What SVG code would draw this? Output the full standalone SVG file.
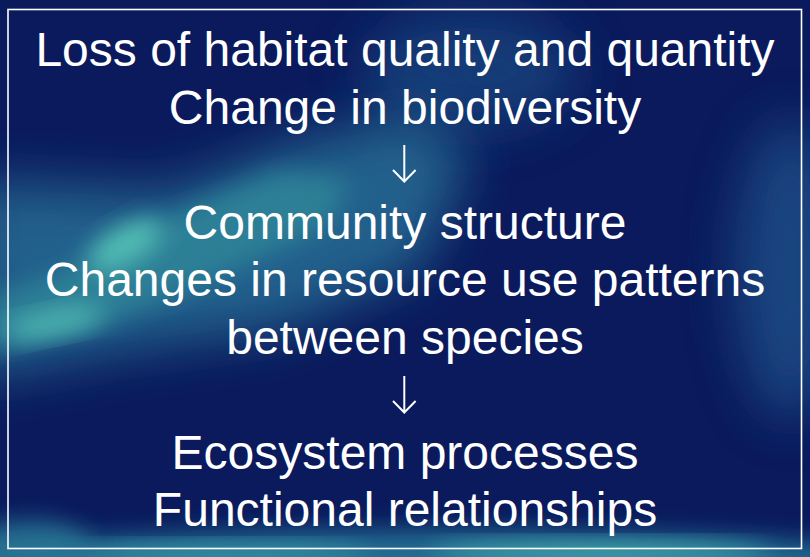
<svg xmlns="http://www.w3.org/2000/svg" width="810" height="557" viewBox="0 0 810 557">
  <defs>
    <filter id="soft" x="-50%" y="-50%" width="200%" height="200%">
      <feGaussianBlur stdDeviation="26"/>
    </filter>
    <filter id="softer" x="-50%" y="-50%" width="200%" height="200%">
      <feGaussianBlur stdDeviation="12"/>
    </filter>
    <style>
      .t { font-family: "Liberation Sans", Arial, sans-serif; font-size: 48px; fill: #ffffff; text-anchor: middle; }
      .arrow { fill: none; stroke: #ffffff; stroke-width: 2; stroke-linecap: butt; stroke-linejoin: miter; }
    </style>
  </defs>

  <!-- background -->
  <rect width="810" height="557" fill="#0a1a5c"/>
  <g id="glow">
    <!-- upper haze towards the top centre -->
    <ellipse cx="470" cy="70" rx="110" ry="60" fill="#173f7a" filter="url(#soft)" opacity="0.9"/>
    <!-- broad diagonal band -->
    <polygon points="-30,180 -30,380 130,350 280,330 420,270 470,160 420,110 300,140 170,190" fill="#22608c" filter="url(#soft)"/>
    <!-- brighter diagonal core -->
    <polygon points="-10,300 -10,350 100,325 200,285 330,225 350,180 280,170 180,210 90,260" fill="#2f8398" filter="url(#softer)" opacity="0.9"/>
    <ellipse cx="125" cy="245" rx="42" ry="18" fill="#52bfb5" filter="url(#softer)" transform="rotate(-30 125 245)"/>
    <ellipse cx="55" cy="323" rx="50" ry="12" fill="#4fbab2" filter="url(#softer)" transform="rotate(-12 55 323)"/>
    <!-- right side lighter blue -->
    <ellipse cx="790" cy="270" rx="55" ry="150" fill="#1d4d86" filter="url(#soft)" opacity="0.85"/>
    <!-- bottom streak -->
    <ellipse cx="420" cy="560" rx="480" ry="30" fill="#226c92" filter="url(#softer)"/>
    <ellipse cx="600" cy="553" rx="170" ry="10" fill="#4ab4b0" filter="url(#softer)" opacity="0.9"/>
    <ellipse cx="220" cy="554" rx="150" ry="9" fill="#3fa4aa" filter="url(#softer)" opacity="0.85"/>
    <ellipse cx="30" cy="545" rx="60" ry="25" fill="#2c7c98" filter="url(#softer)" opacity="0.8"/>
  </g>

  <!-- frame -->
  <rect id="frame" x="8" y="9.5" width="793.5" height="539" fill="none" stroke="#ffffff" stroke-width="1.6"/>

  <g id="level1">
    <text class="t" x="405" y="66">Loss of habitat quality and quantity</text>
    <text class="t" x="405" y="123.5">Change in biodiversity</text>
  </g>
  <g id="connectors">
    <path class="arrow" d="M404.3,145 V181 M393,170 L404.3,181.5 L415.6,170"/>
    <path class="arrow" d="M404.3,376 V412 M393,401 L404.3,412.5 L415.6,401"/>
  </g>
  <g id="level2">
    <text class="t" x="405" y="238.5">Community structure</text>
    <text class="t" x="405" y="296">Changes in resource use patterns</text>
    <text class="t" x="405" y="353.5">between species</text>
  </g>
  <g id="level3">
    <text class="t" x="405" y="468.5">Ecosystem processes</text>
    <text class="t" x="405" y="526">Functional relationships</text>
  </g>
</svg>
